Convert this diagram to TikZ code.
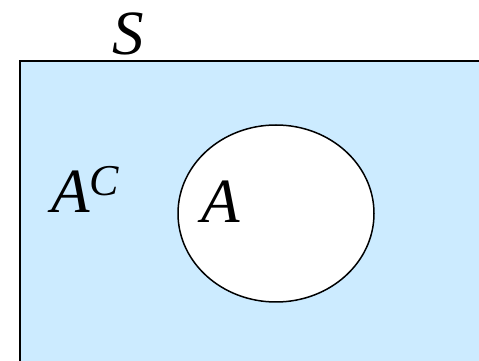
\documentclass[tikz,border=0pt]{standalone}
\usepackage{fontspec}
\setmainfont{Liberation Serif}
\usetikzlibrary{shapes.geometric}
\definecolor{setblue}{HTML}{CCEBFF}
\tikzset{
  lbl/.style={inner sep=0pt, outer sep=0pt, anchor=base west, font=\fontsize{63}{63}\selectfont\itshape},
  outline/.style={draw=black, line width=1.5pt}
}
\begin{document}
\begin{tikzpicture}[x=1pt,y=1pt]
\useasboundingbox (0,0) rectangle (479,361);
\clip (0,0) rectangle (479,361);
\path[outline, fill=setblue] (20,-10) rectangle (495,300);
\node[outline, fill=white, ellipse, minimum width=196pt, minimum height=177pt, inner sep=0pt] (A) at (276,147.5) {};
\node[lbl] (S) at (112,306) {S};
\node[lbl] (Ac) at (51,148) {A\raisebox{17pt}{\fontsize{44}{44}\selectfont C}};
\node[lbl] (Al) at (201,138) {A};
\end{tikzpicture}
\end{document}
